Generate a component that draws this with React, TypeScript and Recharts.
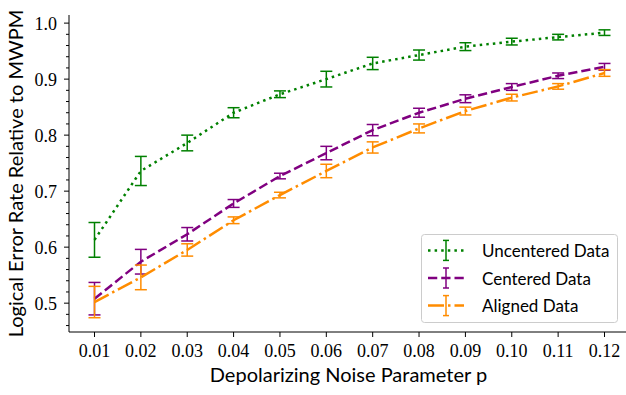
import React from 'react';
import { ComposedChart, Line, XAxis, YAxis, ErrorBar, Legend } from 'recharts';

const noiseP = [0.01, 0.02, 0.03, 0.04, 0.05, 0.06, 0.07, 0.08, 0.09, 0.1, 0.11, 0.12];
const uncentered = [0.613, 0.736, 0.786, 0.84, 0.873, 0.9, 0.928, 0.943, 0.958, 0.967, 0.975, 0.983];
const uncenteredErr = [0.031, 0.026, 0.014, 0.009, 0.006, 0.014, 0.011, 0.009, 0.007, 0.006, 0.005, 0.005];
const centered = [0.508, 0.574, 0.623, 0.678, 0.727, 0.768, 0.809, 0.84, 0.865, 0.886, 0.906, 0.922];
const centeredErr = [0.029, 0.022, 0.012, 0.007, 0.005, 0.012, 0.01, 0.008, 0.007, 0.006, 0.005, 0.006];
const aligned = [0.502, 0.546, 0.595, 0.648, 0.693, 0.736, 0.778, 0.812, 0.843, 0.867, 0.887, 0.911];
const alignedErr = [0.028, 0.022, 0.011, 0.006, 0.005, 0.012, 0.01, 0.008, 0.007, 0.006, 0.005, 0.006];

const xTickValues = [0.01, 0.02, 0.03, 0.04, 0.05, 0.06, 0.07, 0.08, 0.09, 0.1, 0.11, 0.12];
const yTickValues = [0.46, 0.48, 0.5, 0.52, 0.54, 0.56, 0.58, 0.6, 0.62, 0.64, 0.66, 0.68, 0.7, 0.72, 0.74, 0.76, 0.78, 0.8, 0.82, 0.84, 0.86, 0.88, 0.9, 0.92, 0.94, 0.96, 0.98, 1.0];
const seriesNames = ['Uncentered Data', 'Centered Data', 'Aligned Data'];
const xTitle = 'Depolarizing Noise Parameter p';
const yTitle = 'Logical Error Rate Relative to MWPM';

const data = noiseP.map((p, i) => ({
  p,
  uncentered: uncentered[i],
  uncenteredErr: uncenteredErr[i],
  centered: centered[i],
  centeredErr: centeredErr[i],
  aligned: aligned[i],
  alignedErr: alignedErr[i],
}));

const SANS = "Lato, 'DejaVu Sans', sans-serif";
const SERIF = "'Liberation Serif', 'DejaVu Serif', serif";

const styles = [
  { color: 'green', dash: '2.5 4.1' },
  { color: 'purple', dash: '9.25 4' },
  { color: 'darkorange', dash: '16 4 2.5 4' },
];

const XTick = (props: any) => {
  const { x, y, payload } = props;
  return (
    <g>
      <line x1={x} x2={x} y1={y} y2={y + 5} stroke="#000" strokeWidth={1} />
      <text x={x} y={y + 25} textAnchor="middle" fontFamily={SERIF} fontSize={18} fill="#000" style={{ fontFamily: SERIF }}>
        {Number(payload.value).toFixed(2)}
      </text>
    </g>
  );
};

const YTick = (props: any) => {
  const { x, y, payload } = props;
  const v = Number(payload.value);
  const major = Math.abs(v * 10 - Math.round(v * 10)) < 1e-6;
  return (
    <g>
      <line x1={x - (major ? 5 : 3)} x2={x} y1={y} y2={y} stroke="#000" strokeWidth={1} />
      {major && (
        <text x={x - 12} y={y + 7} textAnchor="end" fontFamily={SERIF} fontSize={18} fill="#000" style={{ fontFamily: SERIF }}>
          {v.toFixed(1)}
        </text>
      )}
    </g>
  );
};

const XTitle = (props: any) => {
  const vb = props.viewBox || { x: 69, y: 332, width: 561, height: 63 };
  return (
    <text x={vb.x + vb.width / 2 - 1} y={vb.y + 50} textAnchor="middle" fontFamily={SANS} fontSize={20} fill="#000">
      {xTitle}
    </text>
  );
};

const YTitle = (props: any) => {
  const vb = props.viewBox || { x: 0, y: 15, width: 69, height: 317 };
  const cx = vb.x + 23;
  const cy = vb.y + vb.height / 2;
  return (
    <text x={cx} y={cy} transform={`rotate(-90 ${cx} ${cy})`} textAnchor="middle" fontFamily={SANS} fontSize={20} fill="#000">
      {yTitle}
    </text>
  );
};

const LegendBox = () => {
  const w = 196;
  const h = 88;
  return (
    <svg width={w + 1} height={h + 1} style={{ display: 'block' }}>
      <rect x={0.5} y={0.5} width={w} height={h} rx={3} ry={3} fill="#fff" fillOpacity={0.8} stroke="#cccccc" strokeWidth={1} />
      {seriesNames.map((name, i) => {
        const cy = 16.4 + i * 27.6;
        const s = styles[i];
        return (
          <g key={name}>
            <line x1={7} x2={43} y1={cy} y2={cy} stroke={s.color} strokeWidth={2.5} strokeDasharray={s.dash} />
            <line x1={25} x2={25} y1={cy - 10} y2={cy + 10} stroke={s.color} strokeWidth={1.5} />
            <line x1={22} x2={28} y1={cy - 10} y2={cy - 10} stroke={s.color} strokeWidth={1.5} />
            <line x1={22} x2={28} y1={cy + 10} y2={cy + 10} stroke={s.color} strokeWidth={1.5} />
            <text x={61} y={cy + 6.5} fontFamily={SANS} fontSize={17} fill="#000">
              {name}
            </text>
          </g>
        );
      })}
    </svg>
  );
};

export default function App() {
  return (
    <div style={{ position: 'absolute', left: 0, top: 0, width: 626, height: 395, overflow: 'hidden', background: '#fff' }}>
      <ComposedChart width={640} height={395} data={data} margin={{ top: 15, right: 10, bottom: 0, left: 0 }}>
        <XAxis
          dataKey="p"
          type="number"
          domain={[0.0045, 0.1255]}
          ticks={xTickValues}
          allowDataOverflow
          height={63}
          tickSize={0}
          tickMargin={0}
          tickLine={false}
          axisLine={{ stroke: '#000', strokeWidth: 1 }}
          tick={<XTick />}
          interval={0}
          label={<XTitle />}
        />
        <XAxis
          xAxisId="top"
          orientation="top"
          dataKey="p"
          type="number"
          domain={[0.0045, 0.1255]}
          allowDataOverflow
          height={0}
          tick={false}
          tickLine={false}
          axisLine={{ stroke: '#000', strokeWidth: 1 }}
        />
        <YAxis
          type="number"
          domain={[0.4485, 1.0145]}
          ticks={yTickValues}
          allowDataOverflow
          width={69}
          tickSize={0}
          tickMargin={0}
          tickLine={false}
          axisLine={{ stroke: '#000', strokeWidth: 1 }}
          tick={<YTick />}
          interval={0}
          label={<YTitle />}
        />
        <Legend
          layout="horizontal"
          verticalAlign="middle"
          align="center"
          content={<LegendBox />}
          wrapperStyle={{ position: 'absolute', left: 421, top: 234, width: 197, height: 89, margin: 0 }}
        />
        <Line type="linear" dataKey="uncentered" name={seriesNames[0]} stroke={styles[0].color} strokeWidth={2.5} strokeDasharray={styles[0].dash} dot={false} activeDot={false} isAnimationActive={false}>
          <ErrorBar dataKey="uncenteredErr" width={6} stroke={styles[0].color} strokeWidth={1.5} direction="y" isAnimationActive={false} />
        </Line>
        <Line type="linear" dataKey="centered" name={seriesNames[1]} stroke={styles[1].color} strokeWidth={2.5} strokeDasharray={styles[1].dash} dot={false} activeDot={false} isAnimationActive={false}>
          <ErrorBar dataKey="centeredErr" width={6} stroke={styles[1].color} strokeWidth={1.5} direction="y" isAnimationActive={false} />
        </Line>
        <Line type="linear" dataKey="aligned" name={seriesNames[2]} stroke={styles[2].color} strokeWidth={2.5} strokeDasharray={styles[2].dash} dot={false} activeDot={false} isAnimationActive={false}>
          <ErrorBar dataKey="alignedErr" width={6} stroke={styles[2].color} strokeWidth={1.5} direction="y" isAnimationActive={false} />
        </Line>
      </ComposedChart>
    </div>
  );
}
